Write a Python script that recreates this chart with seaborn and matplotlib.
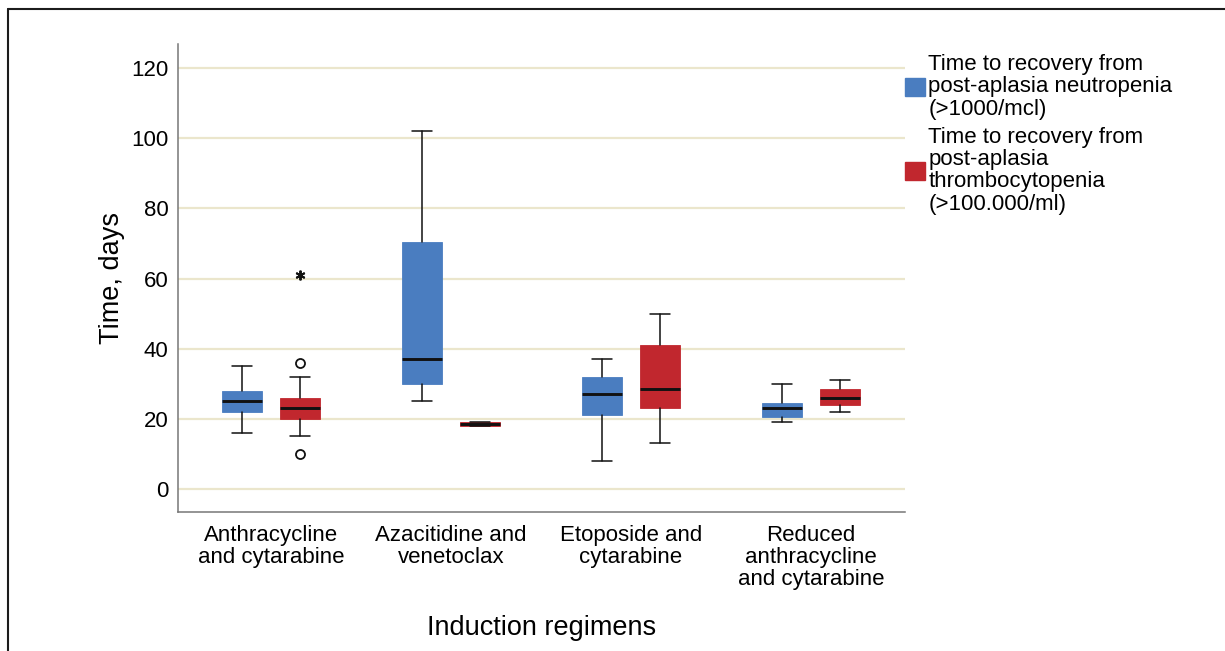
import matplotlib
matplotlib.use("Agg")
import matplotlib.pyplot as plt
import seaborn as sns
from matplotlib.patches import Patch
from matplotlib.lines import Line2D

# Induction regimens on the x axis
regimens = [
    "Anthracycline\nand cytarabine",
    "Azacitidine and\nvenetoclax",
    "Etoposide and\ncytarabine",
    "Reduced\nanthracycline\nand cytarabine",
]
series_labels = [
    "Time to recovery from\npost-aplasia neutropenia\n(>1000/mcl)",
    "Time to recovery from\npost-aplasia\nthrombocytopenia\n(>100.000/ml)",
]
yticks = [0, 20, 40, 60, 80, 100, 120]

# Neutrophil recovery (days): whisker low, Q1, median, Q3, whisker high
neutro_low = [16, 25, 8, 19]
neutro_q1 = [22, 30, 21, 20.5]
neutro_med = [25, 37, 27, 23]
neutro_q3 = [28, 70.5, 32, 24.5]
neutro_high = [35, 102, 37, 30]
neutro_outliers = [[], [], [], []]
neutro_extremes = [[], [], [], []]

# Platelet recovery (days): whisker low, Q1, median, Q3, whisker high
thrombo_low = [15, 18, 13, 22]
thrombo_q1 = [20, 18, 23, 24]
thrombo_med = [23, 18.5, 28.5, 26]
thrombo_q3 = [26, 19, 41, 28.5]
thrombo_high = [32, 19, 50, 31]
thrombo_outliers = [[36, 10], [], [], []]
thrombo_extremes = [[61], [], [], []]

BLUE = "#4a7dc0"
RED = "#c1272e"
GRID = "#ebe6cc"
INK = "#000000"

sns.set_style("white")
plt.rcParams["font.family"] = ["Liberation Sans", "DejaVu Sans"]
plt.rcParams["text.color"] = INK
plt.rcParams["axes.labelcolor"] = INK
plt.rcParams["xtick.color"] = INK
plt.rcParams["ytick.color"] = INK

fig = plt.figure(figsize=(12.25, 6.51), dpi=100)
ax = fig.add_axes([178 / 1225, 1 - 512.3 / 651, (905 - 178) / 1225, (512.3 - 44) / 651])

groups = [
    (neutro_low, neutro_q1, neutro_med, neutro_q3, neutro_high, neutro_outliers, neutro_extremes, BLUE, -0.16),
    (thrombo_low, thrombo_q1, thrombo_med, thrombo_q3, thrombo_high, thrombo_outliers, thrombo_extremes, RED, 0.16),
]

for low, q1, med, q3, high, outl, extr, color, offset in groups:
    stats = []
    for i in range(len(regimens)):
        stats.append(dict(whislo=low[i], q1=q1[i], med=med[i], q3=q3[i], whishi=high[i], fliers=outl[i]))
    positions = [i + offset for i in range(len(regimens))]
    ax.bxp(
        stats,
        positions=positions,
        widths=0.222,
        patch_artist=True,
        showfliers=True,
        boxprops=dict(facecolor=color, edgecolor=color, linewidth=0.6),
        medianprops=dict(color="#111111", linewidth=2.1, solid_capstyle="butt"),
        whiskerprops=dict(color="#111111", linewidth=1.1),
        capprops=dict(color="#111111", linewidth=1.1),
        flierprops=dict(marker="o", markersize=6.5, markerfacecolor="none",
                        markeredgecolor="#111111", markeredgewidth=1.3),
        zorder=3,
    )
    for i in range(len(regimens)):
        if extr[i]:
            ax.plot([i + offset] * len(extr[i]), extr[i], linestyle="none",
                    marker=(6, 2, 0), markersize=7, color="#111111",
                    markeredgewidth=1.4, zorder=4)

ax.set_xlim(-0.517, 3.522)
ax.set_ylim(-6.6, 126.8)
ax.set_yticks(yticks)
ax.set_xticks(range(len(regimens)))
ax.set_xticklabels(regimens, fontsize=16, linespacing=1.08)
ax.tick_params(axis="y", labelsize=16, length=0, pad=7)
ax.tick_params(axis="x", length=0, pad=9)

ax.yaxis.grid(True, color=GRID, linewidth=1.6, zorder=0)
ax.xaxis.grid(False)
ax.set_axisbelow(True)

sns.despine(ax=ax, top=True, right=True)
for side in ("left", "bottom"):
    ax.spines[side].set_color("#777777")
    ax.spines[side].set_linewidth(1.1)

ax.set_ylabel("Time, days", fontsize=19.5, labelpad=4)
ax.set_xlabel("Induction regimens", fontsize=19.5, labelpad=18)

handles = [Patch(facecolor=BLUE, edgecolor=BLUE), Patch(facecolor=RED, edgecolor=RED)]
leg = fig.legend(
    handles, series_labels,
    loc="upper left", bbox_to_anchor=(905 / 1225, 1 - 54 / 651),
    frameon=False, fontsize=16, borderpad=0, borderaxespad=0,
    handlelength=0.9, handleheight=0.9, handletextpad=0.15,
    labelspacing=0.33,
)
for t in leg.get_texts():
    t.set_linespacing(1.08)
    t.set_color(INK)

# outer frame on the top and left edges
fig.add_artist(Line2D([8 / 1225, 1], [1 - 9 / 651, 1 - 9 / 651],
                      transform=fig.transFigure, color="#1c1c1c", linewidth=1.5))
fig.add_artist(Line2D([8 / 1225, 8 / 1225], [0, 1 - 9 / 651],
                      transform=fig.transFigure, color="#1c1c1c", linewidth=1.5))

fig.savefig("out.png", dpi=100, facecolor="white")
